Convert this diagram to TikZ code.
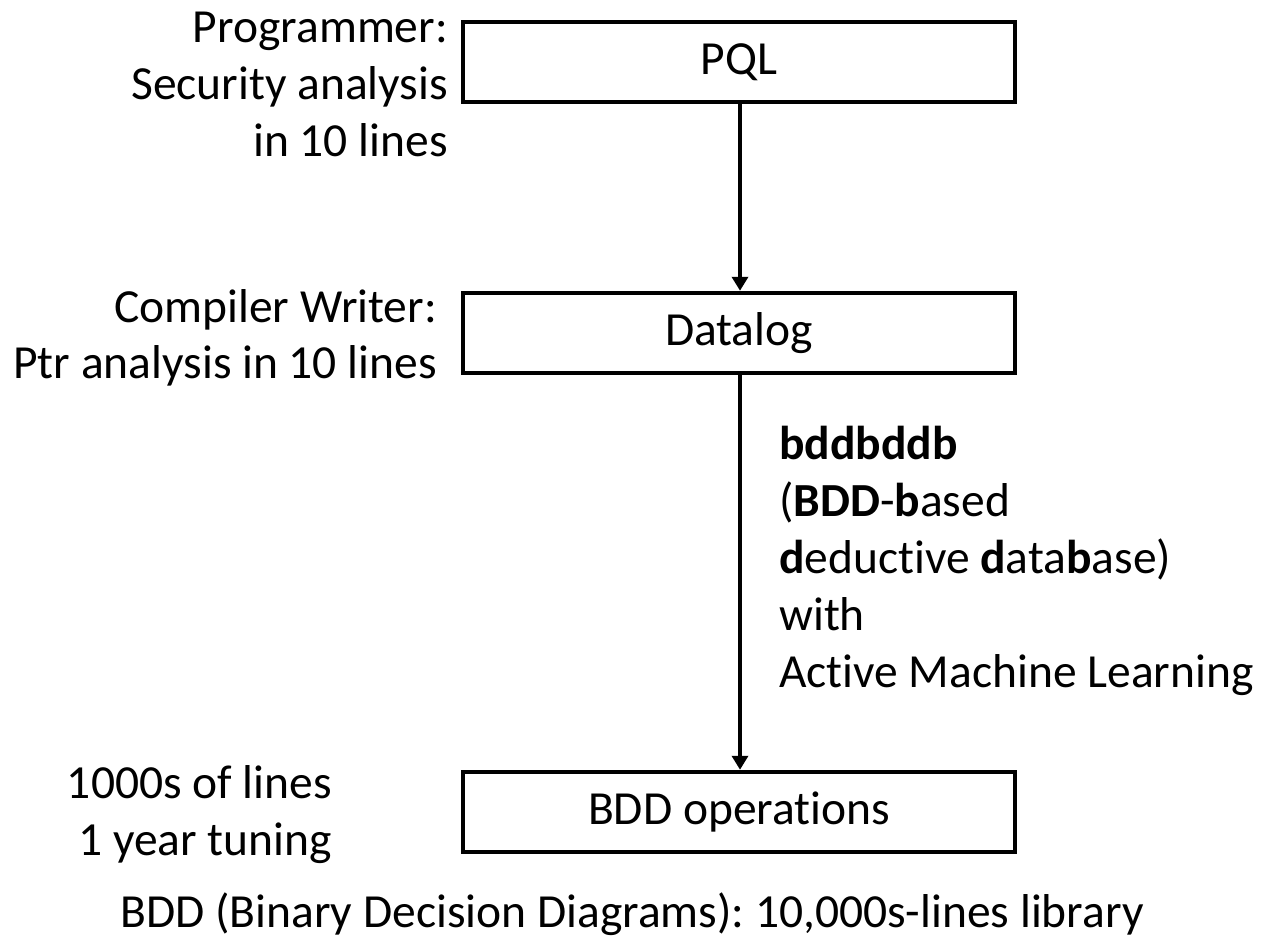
\documentclass[tikz,border=0pt]{standalone}
\usepackage{fontspec}
\setmainfont{Carlito}[Ligatures=NoCommon]
\usetikzlibrary{arrows.meta}
\frenchspacing
\begin{document}
\begin{tikzpicture}[x=1pt,y=-1pt,
  every node/.style={inner sep=0pt, font=\fontsize{47.5}{57}\selectfont},
  stage/.style={draw, line width=4.5pt, minimum width=552pt, minimum height=80pt, anchor=center},
  flow/.style={line width=4pt, -{Triangle[length=14pt,width=16pt]}},
  lbl/.style={anchor=base east},
  rlbl/.style={anchor=base west}]
\useasboundingbox (0,0) rectangle (1265,940);

% stages
\node[stage] (pql) at (739,62) {PQL};
\node[stage] (dlog) at (739,333) {Datalog};
\node[stage] (bdd) at (739,812) {BDD operations};

% arrows between stages
\draw[flow] (pql.south -| 740,0) -- (dlog.north -| 740,0);
\draw[flow] (dlog.south -| 740,0) -- (bdd.north -| 740,0);

% left annotations
\node[lbl] (p1) at (448,42) {Programmer:};
\node[lbl] (p2) at (448,99) {Security analysis};
\node[lbl] (p3) at (448,156) {in 10 lines};

\node[lbl] (c1) at (437,322) {Compiler Writer:};
\node[lbl] (c2) at (437,378) {Ptr analysis in 10 lines};

\node[lbl] (t1) at (332,798) {1000s of lines};
\node[lbl] (t2) at (332,855) {1 year tuning};

% right annotation of the lower arrow
\node[rlbl] (b1) at (779,459) {\textbf{bddbddb}};
\node[rlbl] (b2) at (779,516) {(\textbf{BDD}-\textbf{b}ased};
\node[rlbl] (b3) at (779,573) {\textbf{d}eductive \textbf{d}ata\textbf{b}ase)};
\node[rlbl] (b4) at (779,630) {with};
\node[rlbl] (b5) at (779,687) {Active Machine Learning};

% footer
\node[anchor=base] (foot) at (632,927) {BDD (Binary Decision Diagrams): 10,000s-lines library};
\end{tikzpicture}
\end{document}
